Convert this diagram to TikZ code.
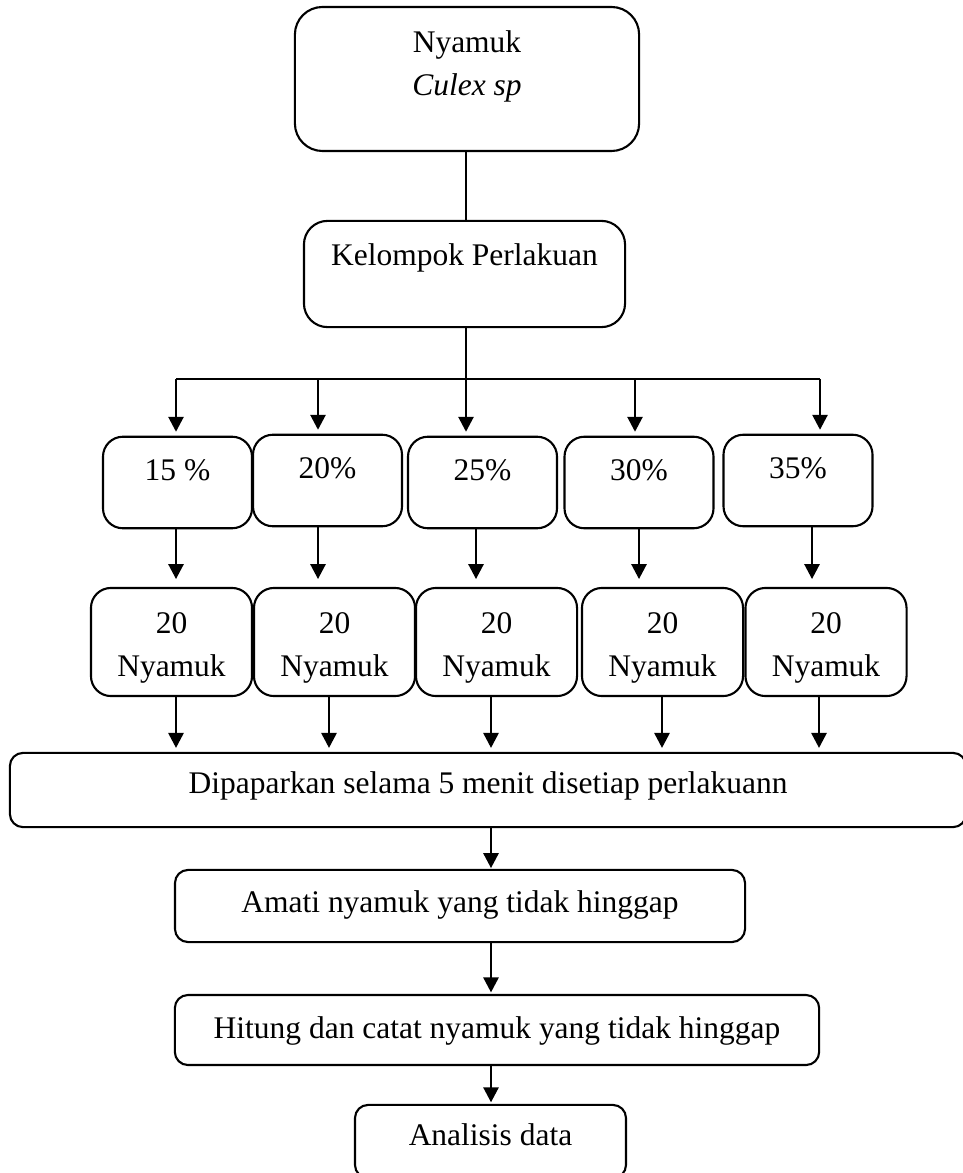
\documentclass[tikz,border=0pt]{standalone}
\usepackage{fontspec}
\setmainfont{Liberation Serif}
\usetikzlibrary{arrows.meta}

\begin{document}
\begin{tikzpicture}[x=0.0134cm, y=-0.0134cm, line width=0.8pt,
    font=\fontsize{12pt}{16.4pt}\selectfont]
      \useasboundingbox (0,0) rectangle (963,1173);
      \clip (0,0) rectangle (963,1173);
      \begin{scope}[every node/.style={draw, rounded corners=5pt, inner xsep=0pt, inner ysep=0pt},
        pbox/.style={minimum width=56.8pt, text height=16.6pt, text depth=18.3pt, rounded corners=7.6pt},
        nbox/.style={minimum width=61.4pt, text height=33.6pt, text depth=7.6pt, rounded corners=7.6pt}]
        \node (N) [minimum width=131.2pt, text height=33.9pt, text depth=21pt, rounded corners=10.5pt] at (467,79)
          {\begin{tabular}[b]{@{}c@{}}Nyamuk\\ \textit{Culex sp}\end{tabular}};
        \node (K) [minimum width=122.4pt, text height=17.2pt, text depth=23.3pt, rounded corners=9pt] at (464.5,274) {Kelompok Perlakuan};
        \node (P1) [pbox] at (177.5,482.5) {15 \%};
        \node (P2) [pbox] at (327.5,480.5) {20\%};
        \node (P3) [pbox] at (482.5,482.5) {25\%};
        \node (P4) [pbox] at (639,482.5) {30\%};
        \node (P5) [pbox] at (798,480.5) {35\%};
        \node (M1) [nbox] at (171.5,642) {\begin{tabular}[b]{@{}c@{}}20\\ Nyamuk\end{tabular}};
        \node (M2) [nbox] at (334.5,642) {\begin{tabular}[b]{@{}c@{}}20\\ Nyamuk\end{tabular}};
        \node (M3) [nbox] at (496.5,642) {\begin{tabular}[b]{@{}c@{}}20\\ Nyamuk\end{tabular}};
        \node (M4) [nbox] at (662.5,642) {\begin{tabular}[b]{@{}c@{}}20\\ Nyamuk\end{tabular}};
        \node (M5) [nbox] at (826,642) {\begin{tabular}[b]{@{}c@{}}20\\ Nyamuk\end{tabular}};
        \node (D) [minimum width=364.5pt, text height=15.3pt, text depth=13pt] at (488,790) {Dipaparkan selama 5 menit disetiap perlakuann};
        \node (A) [minimum width=217.3pt, text height=16.4pt, text depth=11.1pt] at (460,906) {Amati nyamuk yang tidak hinggap};
        \node (H) [minimum width=245.6pt, text height=16.4pt, text depth=10.3pt] at (497,1030) {Hitung dan catat nyamuk yang tidak hinggap};
        \node (AD) [minimum width=103.3pt, text height=15.3pt, text depth=12.6pt] at (490.5,1141.5) {Analisis data};
      \end{scope}
      % branch points
      \coordinate (S) at (466,379);
      \coordinate (d1) at (176,379);
      \coordinate (d2) at (318,379);
      \coordinate (d4) at (635,379);
      \coordinate (d5) at (820,379);
      \coordinate (e1) at (176,0);
      \coordinate (e2) at (318,0);
      \coordinate (e3) at (476,0);
      \coordinate (e4) at (639,0);
      \coordinate (e5) at (812,0);
      \coordinate (f1) at (176,0);
      \coordinate (f2) at (329,0);
      \coordinate (f3) at (491,0);
      \coordinate (f4) at (662,0);
      \coordinate (f5) at (819,0);
      \draw (N.south -| S) -- (S |- K.north);
      \draw (S |- K.south) -- (S);
      \draw (d1) -- (d5);
      \begin{scope}
        [every edge/.style={draw, -{Triangle[length=5.7pt, width=5.8pt]}, shorten >=1.5pt}]
        \path (d1) edge (d1 |- P1.north);
        \path (d2) edge (d2 |- P2.north);
        \path (S) edge (S |- P3.north);
        \path (d4) edge (d4 |- P4.north);
        \path (d5) edge (d5 |- P5.north);
        \path (e1 |- P1.south) edge[shorten >=3pt] (e1 |- M1.north);
        \path (e2 |- P2.south) edge[shorten >=3pt] (e2 |- M2.north);
        \path (e3 |- P3.south) edge[shorten >=3pt] (e3 |- M3.north);
        \path (e4 |- P4.south) edge[shorten >=3pt] (e4 |- M4.north);
        \path (e5 |- P5.south) edge[shorten >=3pt] (e5 |- M5.north);
        \path (f1 |- M1.south) edge (f1 |- D.north);
        \path (f2 |- M2.south) edge (f2 |- D.north);
        \path (f3 |- M3.south) edge (f3 |- D.north);
        \path (f4 |- M4.south) edge (f4 |- D.north);
        \path (f5 |- M5.south) edge (f5 |- D.north);
        \path (f3 |- D.south) edge[shorten >=0.3pt] (f3 |- A.north);
        \path (f3 |- A.south) edge[shorten >=0.6pt] (f3 |- H.north);
        \path (f3 |- H.south) edge[shorten >=0.6pt] (f3 |- AD.north);
      \end{scope}
    \end{tikzpicture}
\end{document}
